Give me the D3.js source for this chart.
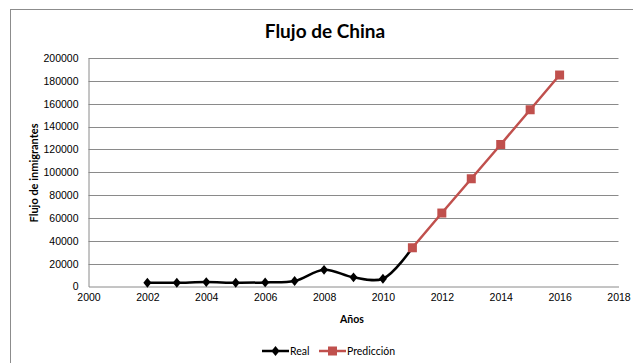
<!DOCTYPE html>
<html>
<head>
<meta charset="utf-8">
<script src="https://cdn.jsdelivr.net/npm/d3@7/dist/d3.min.js"></script>
<style>
  html, body { margin: 0; padding: 0; background: #fff; }
  svg { display: block; font-family: Lato, "Open Sans", "Liberation Sans", sans-serif; }
</style>
</head>
<body>
<svg id="chart" width="633" height="363"></svg>
<script>
// Observed yearly immigrant flow from China
const realYears = [2002, 2003, 2004, 2005, 2006, 2007, 2008, 2009, 2010, 2011];
const realValues = [3300, 3300, 3900, 3300, 3600, 4800, 14600, 8000, 6800, 33900];

// Projected flow
const predYears = [2011, 2012, 2013, 2014, 2015, 2016];
const predValues = [33900, 64300, 94300, 124300, 154700, 185100];

// Axis ticks
const xTicks = [2000, 2002, 2004, 2006, 2008, 2010, 2012, 2014, 2016, 2018];
const yTicks = [0, 20000, 40000, 60000, 80000, 100000, 120000, 140000, 160000, 180000, 200000];

const svg = d3.select("#chart");
const W = 633, H = 363;
const plot = { left: 88.5, right: 618.5, top: 58, bottom: 286.5 };

// Outer chart frame
svg.append("rect")
  .attr("x", 10.5).attr("y", 9.5)
  .attr("width", W + 20).attr("height", H + 20)
  .attr("fill", "#fff").attr("stroke", "#8c8c8c").attr("stroke-width", 1);

const x = d3.scaleLinear().domain([2000, 2018]).range([plot.left, plot.right]);
const y = d3.scaleLinear().domain([0, 200000]).range([plot.bottom, plot.top]);

// Horizontal gridlines
svg.append("g")
  .selectAll("line")
  .data(yTicks.filter(d => d > 0))
  .join("line")
  .attr("x1", plot.left).attr("x2", plot.right)
  .attr("y1", d => Math.round(y(d)) + 0.5).attr("y2", d => Math.round(y(d)) + 0.5)
  .attr("stroke", "#8a8a8a").attr("stroke-width", 1);

// Y axis
const yAxis = svg.append("g")
  .attr("transform", `translate(${plot.left},0)`)
  .call(d3.axisLeft(y).tickValues(yTicks).tickFormat(d3.format("d")).tickSize(0).tickPadding(10));
yAxis.select(".domain").attr("stroke", "#8a8a8a");
yAxis.selectAll("text").attr("font-size", 10.5).attr("fill", "#000");

// X axis
const xAxis = svg.append("g")
  .attr("transform", `translate(0,${plot.bottom})`)
  .call(d3.axisBottom(x).tickValues(xTicks).tickFormat(d3.format("d")).tickSize(0).tickPadding(7));
xAxis.select(".domain").attr("stroke", "#8a8a8a");
xAxis.selectAll("text").attr("font-size", 10.5).attr("fill", "#000");

// Title and axis titles
svg.append("text")
  .attr("x", 325).attr("y", 38)
  .attr("text-anchor", "middle")
  .attr("font-size", 19).attr("font-weight", "bold")
  .text("Flujo de China");

svg.append("text")
  .attr("x", 352).attr("y", 323)
  .attr("text-anchor", "middle")
  .attr("font-size", 10.5).attr("font-weight", "bold")
  .text("Años");

svg.append("text")
  .attr("transform", `translate(38,173) rotate(-90)`)
  .attr("text-anchor", "middle")
  .attr("font-size", 11).attr("font-weight", "bold")
  .text("Flujo de inmigrantes");

// Series lines
const real = realYears.map((yr, i) => [yr, realValues[i]]);
const pred = predYears.map((yr, i) => [yr, predValues[i]]);

const smooth = d3.line().x(d => x(d[0])).y(d => y(d[1])).curve(d3.curveCatmullRom.alpha(0.5));
const straight = d3.line().x(d => x(d[0])).y(d => y(d[1]));

const black = "#000";
const red = "#c0504d";

svg.append("path").datum(real)
  .attr("d", smooth).attr("fill", "none")
  .attr("stroke", black).attr("stroke-width", 2.5);

// Diamond markers for observed points (last one sits under the first projected marker)
svg.append("g").selectAll("path")
  .data(real.slice(0, -1))
  .join("path")
  .attr("transform", d => `translate(${x(d[0])},${y(d[1])}) scale(0.9,1.1) rotate(45)`)
  .attr("d", d3.symbol().type(d3.symbolSquare).size(40))
  .attr("fill", black);

svg.append("path").datum(pred)
  .attr("d", straight).attr("fill", "none")
  .attr("stroke", red).attr("stroke-width", 2.5);

svg.append("g").selectAll("rect")
  .data(pred)
  .join("rect")
  .attr("x", d => x(d[0]) - 4.5).attr("y", d => y(d[1]) - 4.5)
  .attr("width", 9).attr("height", 9)
  .attr("fill", red);

// Legend
const legend = svg.append("g").attr("transform", "translate(0,351)");
legend.append("line").attr("x1", 262).attr("x2", 289).attr("y1", 0).attr("y2", 0)
  .attr("stroke", black).attr("stroke-width", 2.5);
legend.append("path").attr("transform", "translate(275.5,0) scale(0.9,1.1) rotate(45)")
  .attr("d", d3.symbol().type(d3.symbolSquare).size(40)).attr("fill", black);
legend.append("text").attr("x", 290).attr("y", 3.8).attr("font-size", 10.5).text("Real");

legend.append("line").attr("x1", 319).attr("x2", 346).attr("y1", 0).attr("y2", 0)
  .attr("stroke", red).attr("stroke-width", 2.5);
legend.append("rect").attr("x", 328).attr("y", -4.5).attr("width", 9).attr("height", 9).attr("fill", red);
legend.append("text").attr("x", 347).attr("y", 3.8).attr("font-size", 10.5).text("Predicción");
</script>
</body>
</html>
